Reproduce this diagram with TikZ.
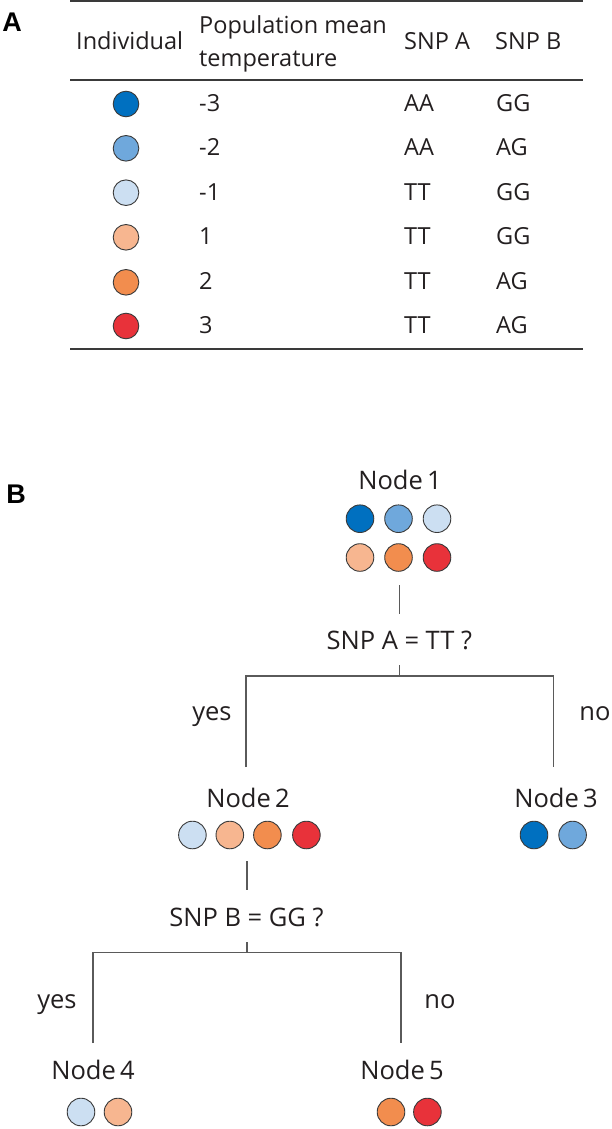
\documentclass[tikz,border=0pt]{standalone}
\usepackage{fontspec}
\setmainfont{Open Sans}
\newfontfamily\tabfont{Open Sans}
\newfontfamily\treefont{Open Sans}
\newfontfamily\labfont{Liberation Sans}
\definecolor{txt}{HTML}{231F20}
\definecolor{bordc}{HTML}{3A3A3A}
\definecolor{linec}{HTML}{5A5A5A}
\definecolor{cA}{RGB}{0,112,192}
\definecolor{cB}{RGB}{111,168,220}
\definecolor{cC}{RGB}{204,223,242}
\definecolor{cD}{RGB}{247,182,144}
\definecolor{cE}{RGB}{242,141,78}
\definecolor{cF}{RGB}{232,50,58}
\tikzset{
  ind/.style={circle, draw=bordc, line width=0.9pt, minimum size=25.6pt, inner sep=0pt},
  tind/.style={ind, minimum size=27.6pt},
  ttext/.style={font=\tabfont\fontsize{23.5}{27}\selectfont, text=txt, anchor=base west, inner sep=0pt},
  trtext/.style={font=\treefont\fontsize{25.5}{30}\selectfont, text=txt, anchor=base, inner sep=0pt},
  panel/.style={font=\labfont\bfseries\fontsize{27}{30}\selectfont, text=black, inner sep=0pt},
  rule/.style={draw=bordc, line width=1.2pt},
  conn/.style={draw=linec, line width=1.1pt}
}
\begin{document}
\begin{tikzpicture}[x=1pt,y=-1pt]
\useasboundingbox[fill=white] (0,0) rectangle (612,1129);
% panel labels
\node[panel] (pA) at (12,22) {A};
\node[panel] (pB) at (16,494) {B};
% table rules
\draw[rule] (70,1) -- (583,1);
\draw[rule] (70,80) -- (583,80);
\draw[rule] (70,349) -- (583,349);
% header
\node[ttext] (h1) at (76,50) {Individual};
\node[ttext] (h2a) at (199,33.3) {Population mean};
\node[ttext] (h2b) at (199,66.7) {temperature};
\node[ttext] (h3) at (404,50) {SNP A};
\node[ttext] (h4) at (495,50) {SNP B};
% rows
\foreach \i/\y/\c/\v/\a/\b in {1/104/cA/-3/AA/GG, 2/148.3/cB/-2/AA/AG, 3/192.7/cC/-1/TT/GG, 4/237.3/cD/1/TT/GG, 5/282.3/cE/2/TT/AG, 6/326/cF/3/TT/AG}{
  \node[ind, fill=\c] (ind\i) at (126,\y) {};
  \node[ttext] (val\i) at (199,\y+7.5) {\v};
  \node[ttext] (sa\i) at (404,\y+7.5) {\a};
  \node[ttext] (sb\i) at (496,\y+7.5) {\b};
}
% tree: node 1
\node[trtext] (n1lab) at (400,489.3) {Node\,1};
\node[tind, fill=cA] (n1c1) at (360,518.7) {};
\node[tind, fill=cB] (n1c2) at (398.5,518.7) {};
\node[tind, fill=cC] (n1c3) at (437,518.7) {};
\node[tind, fill=cD] (n1c4) at (360,557.5) {};
\node[tind, fill=cE] (n1c5) at (398.5,557.5) {};
\node[tind, fill=cF] (n1c6) at (437,557.5) {};
\node[trtext] (q1) at (399.3,649.3) {SNP A = TT ?};
\node[trtext] (yes1) at (212,720) {yes};
\node[trtext] (no1) at (595,720) {no};
% node 2 and 3
\node[trtext] (n2lab) at (248,807.3) {Node\,2};
\node[tind, fill=cC] (n2c1) at (192.4,835) {};
\node[tind, fill=cD] (n2c2) at (229.8,835) {};
\node[tind, fill=cE] (n2c3) at (267.4,835) {};
\node[tind, fill=cF] (n2c4) at (306.4,835) {};
\node[trtext] (n3lab) at (556,807.3) {Node\,3};
\node[tind, fill=cA] (n3c1) at (534,835) {};
\node[tind, fill=cB] (n3c2) at (572.6,835) {};
\node[trtext] (q2) at (246.5,926) {SNP B = GG ?};
\node[trtext] (yes2) at (57,1008) {yes};
\node[trtext] (no2) at (440,1008) {no};
% node 4 and 5
\node[trtext] (n4lab) at (93,1079.3) {Node\,4};
\node[tind, fill=cC] (n4c1) at (81,1112) {};
\node[tind, fill=cD] (n4c2) at (118,1112) {};
\node[trtext] (n5lab) at (402,1079.3) {Node\,5};
\node[tind, fill=cE] (n5c1) at (391,1112) {};
\node[tind, fill=cF] (n5c2) at (427.4,1112) {};
% connectors
\coordinate (l1a) at (399.3,585);
\coordinate (l1b) at (399.3,614);
\coordinate (s1top) at (399.3,665);
\coordinate (s1) at (399.3,676);
\coordinate (s1l) at (246,767);
\coordinate (s1r) at (553.5,767);
\draw[conn] (l1a) -- (l1b);
\draw[conn] (s1top) -- (s1);
\draw[conn] (s1l) |- (s1) -| (s1r);
\coordinate (l2a) at (247,861);
\coordinate (l2b) at (247,890);
\coordinate (s2top) at (247,942);
\coordinate (s2) at (247,952.3);
\coordinate (s2l) at (93,1043);
\coordinate (s2r) at (401,1043);
\draw[conn] (l2a) -- (l2b);
\draw[conn] (s2top) -- (s2);
\draw[conn] (s2l) |- (s2) -| (s2r);
\end{tikzpicture}
\end{document}
